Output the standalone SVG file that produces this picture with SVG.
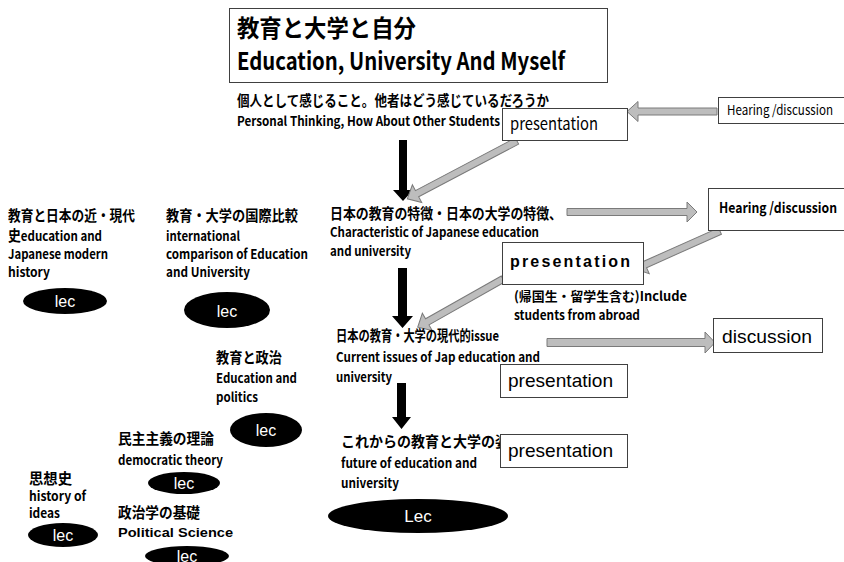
<svg xmlns="http://www.w3.org/2000/svg" width="844" height="562" viewBox="0 0 844 562">
  <style>
    .jp { font-family: "Noto Sans CJK JP", "Liberation Sans", sans-serif; font-weight: bold; font-size: 14.5px; fill: #000; }
    .en { font-family: "Noto Sans CJK JP", "Liberation Sans", sans-serif; font-weight: bold; font-size: 13px; fill: #000; }
    .box { fill: #fff; stroke: #404040; stroke-width: 1; }
    .cal { font-family: "Noto Sans CJK JP", "Liberation Sans", sans-serif; font-size: 17px; fill: #000; }
    .ari { font-family: "Liberation Sans", Arial, sans-serif; font-size: 18.5px; fill: #000; }
    .lec { fill: #000; }
    .lect { font-family: "Liberation Sans", Arial, sans-serif; font-size: 16px; fill: #fff; text-anchor: middle; }
    .fat { fill: #bdbdbd; stroke: #7a7a7a; stroke-width: 1; }
    .down { fill: #000; }
  </style>

  <!-- connectors: black flow arrows and grey block arrows -->
  <g id="connectors">
    <path class="down" d="M399,140 H407 V190 H413 L403,201 L393,190 H399 Z"/>
    <path class="down" d="M398,268 H407 V316 H413 L402.5,328 L392,316 H398 Z"/>
    <path class="down" d="M397,383 H406 V417 H411 L401.5,429 L392,417 H397 Z"/>

    <path class="fat" transform="translate(717,111.5) rotate(180)" d="M0,-3.5 H79 V-10 L90,0 L79,10 V3.5 H0 Z"/>
    <path class="fat" transform="translate(517,141) rotate(152.2)" d="M0,-3.5 H113 V-10 L124,0 L113,10 V3.5 H0 Z"/>
    <path class="fat" transform="translate(567,212)" d="M0,-3.5 H120 V-10 L130,0 L120,10 V3.5 H0 Z"/>
    <path class="fat" transform="translate(720,231) rotate(155.9)" d="M0,-3.5 H82 V-10 L93,0 L82,10 V3.5 H0 Z"/>
    <path class="fat" transform="translate(503,279) rotate(150.5)" d="M0,-3.5 H87 V-10 L98,0 L87,10 V3.5 H0 Z"/>
    <path class="fat" transform="translate(547,342.5)" d="M0,-4 H158 V-10.5 L168,0 L158,10.5 V4 H0 Z"/>
  </g>

  <!-- title -->
  <g id="title">
    <rect class="box" x="229.5" y="8.5" width="378" height="74"/>
    <text class="jp" x="237" y="37" style="font-size:23.5px" textLength="179" lengthAdjust="spacingAndGlyphs">教育と大学と自分</text>
    <text class="en" x="237" y="70" style="font-size:24px" textLength="328" lengthAdjust="spacingAndGlyphs">Education, University And Myself</text>
  </g>

  <g id="personal">
    <text class="jp" x="237" y="106" textLength="312" lengthAdjust="spacingAndGlyphs">個人として感じること。他者はどう感じているだろうか</text>
    <text class="en" x="237" y="126" textLength="263" lengthAdjust="spacingAndGlyphs">Personal Thinking, How About Other Students</text>
  </g>

  <g id="characteristic">
    <text class="jp" x="330" y="219" textLength="232" lengthAdjust="spacingAndGlyphs">日本の教育の特徴・日本の大学の特徴、</text>
    <text class="en" x="330" y="237" textLength="209" lengthAdjust="spacingAndGlyphs">Characteristic of Japanese education</text>
    <text class="en" x="330" y="256" textLength="81" lengthAdjust="spacingAndGlyphs">and university</text>
  </g>

  <g id="abroad">
    <text class="en" x="514" y="301" textLength="173" lengthAdjust="spacingAndGlyphs">(帰国生・留学生含む)Include</text>
    <text class="en" x="514" y="320" textLength="126" lengthAdjust="spacingAndGlyphs">students from abroad</text>
  </g>

  <g id="issues">
    <text class="jp" x="336" y="341" textLength="163" lengthAdjust="spacingAndGlyphs">日本の教育・大学の現代的issue</text>
    <text class="en" x="336" y="362" textLength="204" lengthAdjust="spacingAndGlyphs">Current issues of Jap education and</text>
    <text class="en" x="336" y="382" textLength="56" lengthAdjust="spacingAndGlyphs">university</text>
  </g>

  <g id="future">
    <text class="jp" x="341" y="447" textLength="168" lengthAdjust="spacingAndGlyphs">これからの教育と大学の姿</text>
    <text class="en" x="341" y="468" textLength="136" lengthAdjust="spacingAndGlyphs">future of education and</text>
    <text class="en" x="341" y="488" textLength="58" lengthAdjust="spacingAndGlyphs">university</text>
    <ellipse class="lec" cx="418" cy="516" rx="90" ry="17"/>
    <text class="lect" x="418" y="522" style="font-size:17px">Lec</text>
  </g>

  <!-- activity boxes -->
  <g id="hearing-1">
    <rect class="box" x="718.5" y="97.5" width="130" height="26"/>
    <text class="cal" x="727" y="115" style="font-size:13.5px" textLength="106" lengthAdjust="spacingAndGlyphs">Hearing /discussion</text>
  </g>
  <g id="presentation-1">
    <rect class="box" x="502.5" y="108.5" width="125" height="32"/>
    <text class="cal" x="510" y="130" textLength="88" lengthAdjust="spacingAndGlyphs">presentation</text>
  </g>
  <g id="hearing-2">
    <rect class="box" x="708.5" y="188.5" width="140" height="42"/>
    <text class="jp" x="719" y="213" style="font-size:14.5px" textLength="118" lengthAdjust="spacingAndGlyphs">Hearing /discussion</text>
  </g>
  <g id="presentation-2">
    <rect class="box" x="502.5" y="242.5" width="141" height="42"/>
    <text x="510" y="267" font-family="Liberation Sans, Arial, sans-serif" font-weight="bold" font-size="16" textLength="120" lengthAdjust="spacing">presentation</text>
  </g>
  <g id="discussion">
    <rect class="box" x="713.5" y="318.5" width="109" height="34"/>
    <text class="ari" x="722" y="343" textLength="90" lengthAdjust="spacingAndGlyphs">discussion</text>
  </g>
  <g id="presentation-3">
    <rect class="box" x="500.5" y="364.5" width="127" height="33"/>
    <text class="ari" x="508" y="387" textLength="105" lengthAdjust="spacingAndGlyphs">presentation</text>
  </g>
  <g id="presentation-4">
    <rect class="box" x="500.5" y="434.5" width="127" height="33"/>
    <text class="ari" x="508" y="457" textLength="105" lengthAdjust="spacingAndGlyphs">presentation</text>
  </g>

  <!-- lecture topics -->
  <g id="modern-history">
    <text class="jp" x="8" y="221" textLength="127" lengthAdjust="spacingAndGlyphs">教育と日本の近・現代</text>
    <text class="en" x="8" y="241" textLength="94" lengthAdjust="spacingAndGlyphs"><tspan style="font-size:14.5px">史</tspan>education and</text>
    <text class="en" x="8" y="259" textLength="100" lengthAdjust="spacingAndGlyphs">Japanese modern</text>
    <text class="en" x="8" y="277" textLength="42" lengthAdjust="spacingAndGlyphs">history</text>
    <ellipse class="lec" cx="65" cy="301" rx="42" ry="13"/>
    <text class="lect" x="65" y="307">lec</text>
  </g>

  <g id="international">
    <text class="jp" x="166" y="221" textLength="132" lengthAdjust="spacingAndGlyphs">教育・大学の国際比較</text>
    <text class="en" x="166" y="241" textLength="74" lengthAdjust="spacingAndGlyphs">international</text>
    <text class="en" x="166" y="259" textLength="142" lengthAdjust="spacingAndGlyphs">comparison of Education</text>
    <text class="en" x="166" y="277" textLength="84" lengthAdjust="spacingAndGlyphs">and University</text>
    <ellipse class="lec" cx="227" cy="310" rx="43" ry="18"/>
    <text class="lect" x="227" y="317">lec</text>
  </g>

  <g id="politics">
    <text class="jp" x="216" y="363" textLength="66" lengthAdjust="spacingAndGlyphs">教育と政治</text>
    <text class="en" x="216" y="383" textLength="81" lengthAdjust="spacingAndGlyphs">Education and</text>
    <text class="en" x="216" y="402" textLength="42" lengthAdjust="spacingAndGlyphs">politics</text>
    <ellipse class="lec" cx="266" cy="430" rx="36" ry="17"/>
    <text class="lect" x="266" y="436">lec</text>
  </g>

  <g id="democratic">
    <text class="jp" x="118" y="444" textLength="96" lengthAdjust="spacingAndGlyphs">民主主義の理論</text>
    <text class="en" x="118" y="465" textLength="105" lengthAdjust="spacingAndGlyphs">democratic theory</text>
    <ellipse class="lec" cx="184" cy="483" rx="36" ry="11"/>
    <text class="lect" x="184" y="489">lec</text>
  </g>

  <g id="ideas">
    <text class="jp" x="29" y="484" textLength="43" lengthAdjust="spacingAndGlyphs">思想史</text>
    <text class="en" x="29" y="501" textLength="57" lengthAdjust="spacingAndGlyphs">history of</text>
    <text class="en" x="29" y="518" textLength="31" lengthAdjust="spacingAndGlyphs">ideas</text>
    <ellipse class="lec" cx="63" cy="535" rx="35" ry="12"/>
    <text class="lect" x="63" y="541">lec</text>
  </g>

  <g id="political-science">
    <text class="jp" x="118" y="518" textLength="82" lengthAdjust="spacingAndGlyphs">政治学の基礎</text>
    <text x="118" y="537" font-family="Liberation Sans, Arial, sans-serif" font-weight="bold" font-size="13" textLength="115" lengthAdjust="spacingAndGlyphs">Political  Science</text>
    <ellipse class="lec" cx="187" cy="556" rx="42" ry="10"/>
    <text class="lect" x="187" y="562">lec</text>
  </g>
</svg>
